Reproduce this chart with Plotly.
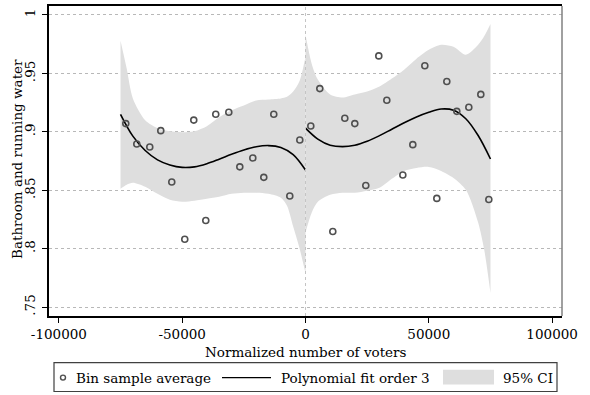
import plotly.graph_objects as go

# Bin sample averages
bin_x = [-72870, -68410, -63140, -58680, -54220, -48950, -45300, -40430, -36380,
         -31100, -26640, -21370, -16910, -12860, -6370, -2310,
         2150, 5800, 11070, 15940, 19990, 24450, 29720, 32970, 39460, 43510,
         48380, 53240, 57300, 61350, 66220, 71080, 74330]
bin_y = [0.907, 0.8895, 0.887, 0.901, 0.857, 0.808, 0.910, 0.824, 0.915,
         0.9167, 0.870, 0.8776, 0.861, 0.915, 0.845, 0.893,
         0.905, 0.937, 0.8146, 0.9116, 0.907, 0.854, 0.965, 0.927, 0.863, 0.889,
         0.9566, 0.843, 0.943, 0.9175, 0.921, 0.932, 0.842]

# Polynomial fit (order 3), left of the threshold
left_fit_x = [-75000, -70000, -65000, -60000, -55000, -50000, -45000, -40000,
              -35000, -30000, -25000, -20000, -15000, -10000, -5000, 0]
left_fit = [0.9150, 0.8963, 0.8840, 0.8760, 0.8716, 0.8695, 0.8700, 0.8727,
            0.8766, 0.8808, 0.8845, 0.8872, 0.8882, 0.8866, 0.8805, 0.8673]

# Polynomial fit (order 3), right of the threshold
right_fit_x = [0, 5000, 10000, 15000, 20000, 25000, 30000, 35000, 40000, 45000,
               50000, 55000, 60000, 65000, 70000, 75000]
right_fit = [0.9031, 0.8937, 0.8885, 0.8873, 0.8885, 0.8919, 0.8967, 0.9022,
             0.9077, 0.9127, 0.9167, 0.9195, 0.9185, 0.9112, 0.8968, 0.8767]

# 95% CI bounds, left of the threshold
left_ci_x = [-75000, -72500, -70000, -65000, -60000, -55000, -50000, -45000, -40000,
             -35000, -30000, -25000, -20000, -15000, -10000, -7500, -5000, -2500, 0]
left_hi = [0.9779, 0.9541, 0.9286, 0.9099, 0.9031, 0.9005, 0.8997, 0.9005, 0.9048,
           0.9124, 0.9184, 0.9226, 0.9269, 0.9277, 0.9286, 0.9300, 0.9345, 0.9430, 0.9643]
left_lo = [0.8512, 0.8546, 0.8563, 0.8529, 0.8469, 0.8418, 0.8401, 0.8410, 0.8427,
           0.8444, 0.8469, 0.8478, 0.8478, 0.8469, 0.8435, 0.8367, 0.8189, 0.8010, 0.7789]

# 95% CI bounds, right of the threshold
right_ci_x = [0, 2500, 5000, 10000, 15000, 20000, 25000, 30000, 35000, 40000, 45000,
              50000, 55000, 60000, 65000, 70000, 72500, 75000]
right_hi = [0.9830, 0.9583, 0.9447, 0.9320, 0.9294, 0.9320, 0.9345, 0.9388, 0.9456,
            0.9532, 0.9626, 0.9702, 0.9745, 0.9728, 0.9660, 0.9745, 0.9820, 0.9923]
right_lo = [0.8138, 0.8308, 0.8401, 0.8461, 0.8478, 0.8478, 0.8495, 0.8520, 0.8597,
            0.8665, 0.8690, 0.8699, 0.8665, 0.8605, 0.8503, 0.8223, 0.7985, 0.7619]

x_ticks = [-100000, -50000, 0, 50000, 100000]
x_tick_text = ["-100000", "-50000", "0", "50000", "100000"]
y_ticks = [0.75, 0.8, 0.85, 0.9, 0.95, 1.0]
y_tick_text = [".75", ".8", ".85", ".9", ".95", "1"]

FONT = "DejaVu Serif"
FS = 13.5
CI_GRAY = "#dedede"
MARK = "#505050"

W, H = 590, 395
ML, MR, MT, MB = 49, 28, 4, 79
PW, PH = W - ML - MR, H - MT - MB


def px(p):
    return (p - ML) / PW


def py(p):
    return (H - MB - p) / PH


fig = go.Figure()

# CI bands
for xs, lo, hi in [(left_ci_x, left_lo, left_hi), (right_ci_x, right_lo, right_hi)]:
    fig.add_trace(go.Scatter(x=xs, y=lo, mode="lines",
                             line=dict(width=0, color=CI_GRAY, shape="spline", smoothing=0.8),
                             hoverinfo="skip", showlegend=False))
    fig.add_trace(go.Scatter(x=xs, y=hi, mode="lines", fill="tonexty", fillcolor=CI_GRAY,
                             line=dict(width=0, color=CI_GRAY, shape="spline", smoothing=0.8),
                             hoverinfo="skip", showlegend=False))

# Fitted polynomials
for xs, ys in [(left_fit_x, left_fit), (right_fit_x, right_fit)]:
    fig.add_trace(go.Scatter(x=xs, y=ys, mode="lines",
                             line=dict(color="black", width=1.6, shape="spline", smoothing=1.0),
                             showlegend=False))

# Bin averages
fig.add_trace(go.Scatter(x=bin_x, y=bin_y, mode="markers",
                         marker=dict(symbol="circle-open", size=6, color=MARK,
                                     line=dict(width=1.6, color=MARK)),
                         showlegend=False))

shapes = [
    # threshold line
    dict(type="line", xref="x", yref="paper", x0=0, x1=0, y0=0, y1=1,
         line=dict(color="#c4c4c4", width=1, dash="dot"), layer="above"),
    # right frame edge
    dict(type="line", xref="paper", yref="paper", x0=1, x1=1, y0=0, y1=1,
         line=dict(color="#808080", width=1.5)),
    # legend box
    dict(type="rect", xref="paper", yref="paper", x0=px(54), x1=px(557), y0=py(363), y1=py(392),
         line=dict(color="#404040", width=1.2), fillcolor="white"),
    dict(type="circle", xref="paper", yref="paper", x0=px(60.5), x1=px(65.5), y0=py(375.5), y1=py(380.5),
         line=dict(color=MARK, width=1.4)),
    dict(type="line", xref="paper", yref="paper", x0=px(222), x1=px(271), y0=py(378), y1=py(378),
         line=dict(color="black", width=1.4)),
    dict(type="rect", xref="paper", yref="paper", x0=px(443), x1=px(494), y0=py(370), y1=py(385),
         line=dict(width=0), fillcolor=CI_GRAY),
]

annotations = [
    dict(text="Normalized number of voters", xref="paper", yref="paper", x=0.5, y=py(352),
         xanchor="center", yanchor="middle", showarrow=False),
    dict(text="Bathroom and running water", xref="paper", yref="paper", x=px(17), y=py(158),
         xanchor="center", yanchor="middle", textangle=-90, showarrow=False),
    dict(text="Bin sample average", xref="paper", yref="paper", x=px(74), y=py(378),
         xanchor="left", yanchor="middle", showarrow=False),
    dict(text="Polynomial fit order 3", xref="paper", yref="paper", x=px(279), y=py(378),
         xanchor="left", yanchor="middle", showarrow=False),
    dict(text="95% CI", xref="paper", yref="paper", x=px(501), y=py(378),
         xanchor="left", yanchor="middle", showarrow=False),
]

fig.update_layout(
    width=W, height=H,
    margin=dict(l=ML, r=MR, t=MT, b=MB),
    paper_bgcolor="white", plot_bgcolor="white",
    font=dict(family=FONT, size=FS, color="black"),
    showlegend=False,
    shapes=shapes,
    annotations=annotations,
    xaxis=dict(range=[-104000, 104000], tickvals=x_ticks, ticktext=x_tick_text,
               ticklabelstandoff=0,
               showgrid=False, zeroline=False, showline=True, linecolor="black", linewidth=1.5,
               mirror=True, ticks="outside", ticklen=5, tickcolor="black", tickwidth=1.2),
    yaxis=dict(range=[0.7423, 1.0077], tickvals=y_ticks, ticktext=y_tick_text, tickangle=-90,
               ticklabelstandoff=2,
               showgrid=True, gridcolor="#b8b8b8", griddash="dot", gridwidth=1,
               zeroline=False, showline=True, linecolor="black", linewidth=1.5,
               ticks="outside", ticklen=5, tickcolor="black", tickwidth=1.2),
)

fig.write_html("out.html")
